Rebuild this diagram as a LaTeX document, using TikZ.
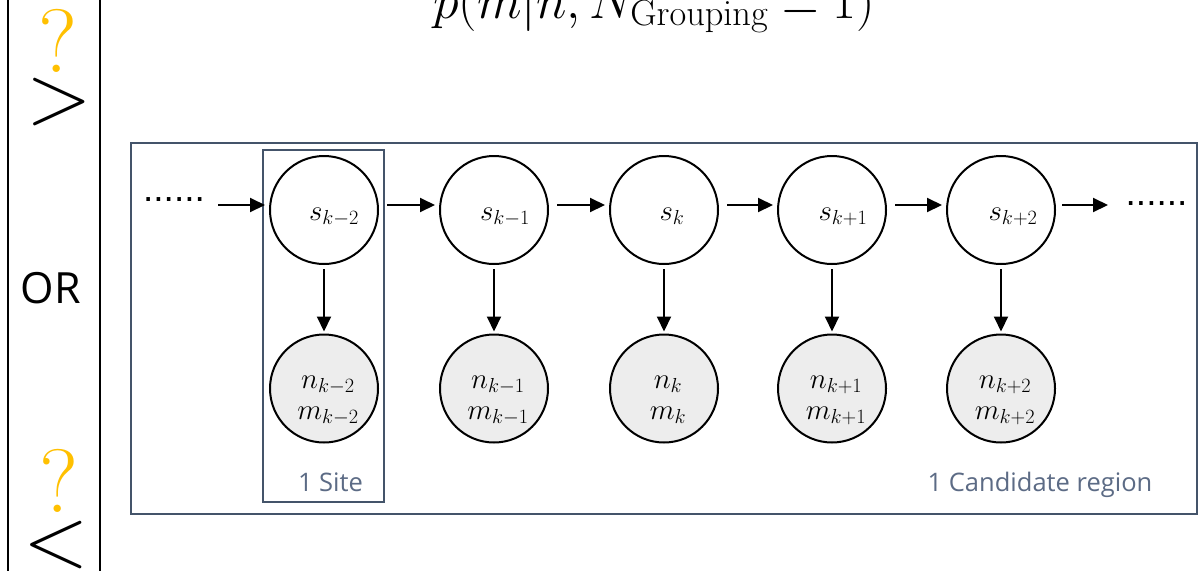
\RequirePackage{fix-cm}
\documentclass[tikz,border=0pt]{standalone}
\usepackage[no-math]{fontspec}
\newfontfamily\osans{Open Sans}
\newfontfamily\lsans{Liberation Sans}
\usetikzlibrary{arrows.meta}
\definecolor{slate}{HTML}{44546A}
\definecolor{slatetxt}{HTML}{5C6B85}
\definecolor{qyellow}{HTML}{FFC000}
\definecolor{obsfill}{HTML}{EDEDED}
\begin{document}
\begin{tikzpicture}[x=1pt,y=-1pt,
  latent/.style={circle,draw=black,line width=2pt,minimum size=108pt,inner sep=0pt,fill=white},
  observed/.style={latent,fill=obsfill},
  lbl/.style={anchor=base,inner sep=0pt,font=\fontsize{29}{31}\selectfont},
  arr/.style={line width=2pt,-{Triangle[length=15pt,width=14pt]}},
  framebox/.style={draw=slate,line width=2.5pt,outer sep=0pt,inner sep=0pt,anchor=north west},
  boxlabel/.style={anchor=base,inner sep=0pt,text=slatetxt,font=\osans\fontsize{25.5}{28}\selectfont},
  qmark/.style={inner sep=0pt,text=qyellow,font=\fontsize{90}{95}\selectfont},
  relsym/.style={inner sep=0pt,font=\fontsize{86}{90}\selectfont},
  dots/.style={anchor=base,inner sep=0pt,font=\lsans\fontsize{37}{40}\selectfont},
  sep/.style={line width=2pt,draw=black}]
\clip (0,0) rectangle (1201,571);
\fill[white] (0,0) rectangle (1201,571);

% left column
\draw[sep] (8,0) -- (8,571);
\draw[sep] (100,0) -- (100,571);
\node[qmark] (q1) at (58,41) {?};
\node[relsym] (gt) at (59.5,102) {$>$};
\node[inner sep=0pt,font=\osans\fontsize{43}{46}\selectfont] (or) at (51,288) {OR};
\node[qmark] (q2) at (59,480.5) {?};
\node[relsym] (lt) at (56,545) {$<$};

% formula (cut by the top edge)
\node[anchor=base,inner sep=0pt,font=\fontsize{52}{56}\selectfont] (formula) at (654,18)
  {$p(m|n,N_{\mathrm{Grouping}}\mathbin{\raisebox{-6pt}{$-$}}1)$};

% frames
\node[framebox,minimum width=1066pt,minimum height=371pt] (region) at (131,143) {};
\node[framebox,minimum width=121pt,minimum height=352pt] (site) at (263,150) {};
\node[boxlabel] (sitelbl) at (330.5,491) {1 Site};
\node[boxlabel] (regionlbl) at (1040,491) {1 Candidate region};

% hidden states
\node[latent] (s1) at (324,210) {};
\node[latent] (s2) at (494,210) {};
\node[latent] (s3) at (664,210) {};
\node[latent] (s4) at (832,210) {};
\node[latent] (s5) at (1001,210) {};
\node[lbl] (ls1) at (334,220) {$s_{k-2}$};
\node[lbl] (ls2) at (505,220) {$s_{k-1}$};
\node[lbl] (ls3) at (672,220) {$s_{k}$};
\node[lbl] (ls4) at (843,220) {$s_{k+1}$};
\node[lbl] (ls5) at (1013,220) {$s_{k+2}$};

% observations
\node[observed] (o1) at (324,388.5) {};
\node[observed] (o2) at (494,388.5) {};
\node[observed] (o3) at (664,388.5) {};
\node[observed] (o4) at (832,388.5) {};
\node[observed] (o5) at (1001,388.5) {};
\node[lbl] (n1) at (328,388) {$n_{k-2}$};
\node[lbl] (m1) at (328,419) {$m_{k-2}$};
\node[lbl] (n2) at (498,388) {$n_{k-1}$};
\node[lbl] (m2) at (498,419) {$m_{k-1}$};
\node[lbl] (n3) at (668,388) {$n_{k}$};
\node[lbl] (m3) at (668,419) {$m_{k}$};
\node[lbl] (n4) at (836,388) {$n_{k+1}$};
\node[lbl] (m4) at (836,419) {$m_{k+1}$};
\node[lbl] (n5) at (1005,388) {$n_{k+2}$};
\node[lbl] (m5) at (1005,419) {$m_{k+2}$};

% dots and free ends
\node[dots] (ldots) at (174,201) {......};
\node[dots] (rdots) at (1156.5,205) {......};
\coordinate (cin) at (218,205);
\coordinate (cout) at (1108,205);

% chain arrows
\draw[arr,shorten >=4pt] (cin) -- ([yshift=5pt]s1.west);
\draw[arr,shorten <=8pt,shorten >=4pt] ([yshift=5pt]s1.east) -- ([yshift=5pt]s2.west);
\draw[arr,shorten <=8pt,shorten >=4pt] ([yshift=5pt]s2.east) -- ([yshift=5pt]s3.west);
\draw[arr,shorten <=8pt,shorten >=4pt] ([yshift=5pt]s3.east) -- ([yshift=5pt]s4.west);
\draw[arr,shorten <=8pt,shorten >=4pt] ([yshift=5pt]s4.east) -- ([yshift=5pt]s5.west);
\draw[arr,shorten <=6pt] ([yshift=5pt]s5.east) -- (cout);

% emission arrows
\foreach \i in {1,...,5}{
  \draw[arr,shorten <=4pt,shorten >=2pt] (s\i.south) -- (o\i.north);
}
\end{tikzpicture}
\end{document}
